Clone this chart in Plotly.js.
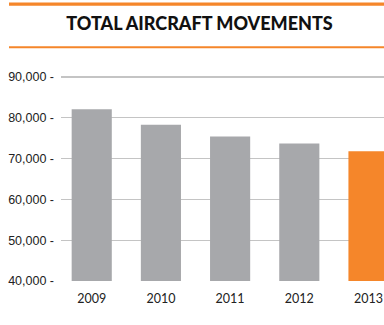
<!DOCTYPE html>
<html>
<head>
<meta charset="utf-8">
<script src="https://cdn.plot.ly/plotly-3.0.1.min.js"></script>
<style>
  html, body { margin: 0; padding: 0; background: #fff; }
  #chart { width: 384px; height: 325px; }
</style>
</head>
<body>
<div id="chart"></div>
<script>
// Total aircraft movements per year
const years = ['2009', '2010', '2011', '2012', '2013'];
const movements = [82100, 78300, 75400, 73700, 71800];
const barColors = ['#a7a8ab', '#a7a8ab', '#a7a8ab', '#a7a8ab', '#f5862a'];
const yTicks = [40000, 50000, 60000, 70000, 80000, 90000];
const yTickLabels = ['40,000 -', '50,000 -', '60,000 -', '70,000 -', '80,000 -', '90,000 -'];

const W = 384, H = 325;
const margin = { l: 61, r: 0, t: 74.5, b: 44.3 };
const plotH = H - margin.t - margin.b;
// convert a pixel row/column of the page to a paper fraction of the plot area
const py = y => (H - margin.b - y) / plotH;
const plotW = W - margin.l - margin.r;
const px = x => (x - margin.l) / plotW;

const orange = '#f5862a';

const trace = {
  type: 'bar',
  x: years,
  y: movements,
  marker: { color: barColors, line: { width: 0 } },
  hoverinfo: 'skip'
};

const layout = {
  width: W,
  height: H,
  margin: margin,
  paper_bgcolor: '#ffffff',
  plot_bgcolor: '#ffffff',
  showlegend: false,
  bargap: 0.42,
  title: {
    text: 'TOTAL AIRCRAFT MOVEMENTS',
    font: { family: 'Lato, sans-serif', size: 18, color: '#111111', weight: 900 },
    x: 199.5 / W,
    xref: 'container',
    xanchor: 'center',
    y: 1 - 23.5 / H,
    yref: 'container',
    yanchor: 'middle'
  },
  xaxis: {
    type: 'category',
    range: [-0.444, 4.224],
    showgrid: false,
    zeroline: false,
    showline: false,
    ticks: '',
    ticklabelstandoff: 8,
    tickfont: { family: 'Lato, sans-serif', size: 12.5, color: '#222222' },
    fixedrange: true
  },
  yaxis: {
    range: [40000, 90490],
    tickmode: 'array',
    tickvals: yTicks,
    ticktext: yTickLabels,
    showgrid: true,
    gridcolor: '#c4c4c4',
    gridwidth: 1.3,
    zeroline: false,
    showline: false,
    ticks: '',
    ticklabelstandoff: 6,
    tickfont: { family: '"Liberation Sans", Arial, sans-serif', size: 12.5, color: '#222222' },
    fixedrange: true
  },
  shapes: [
    // orange rules above and below the heading
    { type: 'line', xref: 'paper', yref: 'paper',
      x0: px(9), x1: px(384), y0: py(3.6), y1: py(3.6),
      line: { color: orange, width: 3.2 } },
    { type: 'line', xref: 'paper', yref: 'paper',
      x0: px(9), x1: px(384), y0: py(46.6), y1: py(46.6),
      line: { color: orange, width: 2 } }
  ]
};

Plotly.newPlot('chart', [trace], layout, { displayModeBar: false, staticPlot: true });
</script>
</body>
</html>
